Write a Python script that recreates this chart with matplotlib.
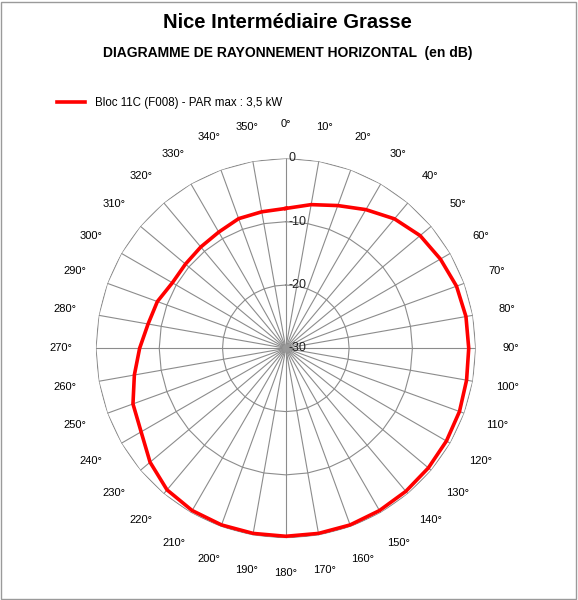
import numpy as np
import matplotlib
matplotlib.use("Agg")
import matplotlib.pyplot as plt
from matplotlib.patches import Rectangle

plt.rcParams['font.family'] = ['Liberation Sans', 'DejaVu Sans']

angles_deg = list(range(0, 360, 10))
level_db = [-7.9, -6.95, -6.0, -4.7, -3.3, -2.3, -1.8, -1.3, -1.1, -1.1,
            -1.0, -0.8, -0.7, -0.6, -0.5, -0.4, -0.3, -0.3, -0.3, -0.3,
            -0.3, -0.4, -0.8, -2.0, -3.6, -4.3, -5.7, -6.9, -7.9, -8.4,
            -9.3, -9.3, -9.1, -8.8, -8.2, -8.1]
rings = [0, -10, -20, -30]
title = "Nice Intermédiaire Grasse"
subtitle = "DIAGRAMME DE RAYONNEMENT HORIZONTAL  (en dB)"
series_label = "Bloc 11C (F008) - PAR max : 3,5 kW"

fig = plt.figure(figsize=(5.78, 6.0), dpi=100)
fig.patches.append(Rectangle((0.002, 0.002), 0.994, 0.994, transform=fig.transFigure,
                             fill=False, edgecolor='#9a9a9a', lw=1))
ax = fig.add_axes([0.166, 0.103, 0.657, 0.633], projection='polar')
ax.set_theta_zero_location('N')
ax.set_theta_direction(-1)
ax.set_ylim(-30, 0)
ax.grid(False)
ax.set_xticks([]); ax.set_yticks([])
ax.spines['polar'].set_visible(False)

th = np.deg2rad(angles_deg)
th_closed = np.append(th, th[0])
for r in rings[:-1]:
    ax.plot(th_closed, [r] * len(th_closed), color='#8c8c8c', lw=0.8, zorder=1)
for t in th:
    ax.plot([t, t], [-30, 0], color='#8c8c8c', lw=0.8, zorder=1)
ax.plot([0], [-30], 'o', color='#999999', ms=5, zorder=2)

ax.plot(th_closed, level_db + [level_db[0]], color='#ff0000', lw=2.6, zorder=3,
        label=series_label)

for a in angles_deg:
    ax.text(np.deg2rad(a), 5.5, f"{a}°", ha='center', va='center', fontsize=8,
            clip_on=False)
for r in rings:
    ax.annotate(str(r), (0, r), xytext=(2, 0), textcoords='offset points',
                ha='left', va='center', fontsize=9, color='#222222', zorder=4)

fig.text(0.498, 0.963, title, ha='center', va='center', fontsize=14.5, fontweight='bold')
fig.text(0.498, 0.912, subtitle, ha='center', va='center', fontsize=10, fontweight='bold')
fig.legend(loc='upper left', bbox_to_anchor=(0.08, 0.855), frameon=False, fontsize=8.3,
           handlelength=2.5)

fig.savefig("out.png", dpi=100)
